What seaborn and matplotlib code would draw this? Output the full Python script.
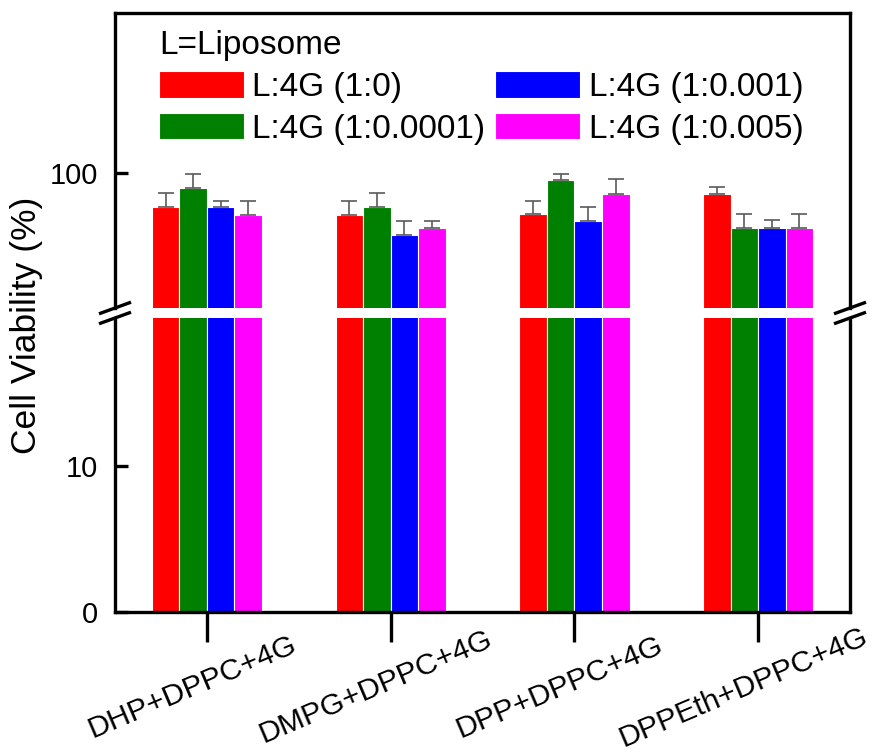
import numpy as np
import pandas as pd
import matplotlib
matplotlib.use("Agg")
import matplotlib.pyplot as plt
import matplotlib.transforms as mtransforms
import seaborn as sns

# ---------------- data ----------------
groups = ["DHP+DPPC+4G", "DMPG+DPPC+4G", "DPP+DPPC+4G", "DPPEth+DPPC+4G"]
series = ["L:4G (1:0)", "L:4G (1:0.0001)", "L:4G (1:0.001)", "L:4G (1:0.005)"]
vals_1_0 = [90.0, 87.8, 87.9, 93.9]
vals_1_00001 = [95.7, 90.0, 97.9, 84.0]
vals_1_0001 = [90.0, 82.0, 85.9, 84.0]
vals_1_0005 = [87.8, 83.9, 93.9, 84.0]
err_1_0 = [4.0, 4.1, 4.0, 2.0]
err_1_00001 = [4.1, 4.0, 1.9, 4.1]
err_1_0001 = [1.9, 4.0, 4.2, 2.1]
err_1_0005 = [4.1, 2.0, 4.2, 4.1]
colors = ["#FF0000", "#008000", "#0000FF", "#FF00FF"]
legend_title = "L=Liposome"
y_label = "Cell Viability (%)"

values = [vals_1_0, vals_1_00001, vals_1_0001, vals_1_0005]
errors = [err_1_0, err_1_00001, err_1_0001, err_1_0005]

rows = []
for s, vs in zip(series, values):
    for g, v in zip(groups, vs):
        rows.append({"group": g, "series": s, "value": v})
df = pd.DataFrame(rows)

# ---------------- style ----------------
sns.set_style("ticks")
plt.rcParams["font.family"] = ["Liberation Sans", "DejaVu Sans"]
for k in ["text.color", "axes.labelcolor", "xtick.color", "ytick.color",
          "axes.edgecolor"]:
    plt.rcParams[k] = "black"

fig = plt.figure(figsize=(8.83, 7.55), dpi=100)
W, H = 883.0, 755.0
L, R = 115 / W, 850 / W
ax_top = fig.add_axes([L, 1 - 308 / H, R - L, (308 - 13) / H])
ax_bot = fig.add_axes([L, 1 - 612 / H, R - L, (612 - 318) / H], sharex=ax_top)

for ax, show_leg in [(ax_top, True), (ax_bot, False)]:
    sns.barplot(data=df, x="group", y="value", hue="series", hue_order=series,
                order=groups, palette=colors, saturation=1, width=0.6,
                errorbar=None, edgecolor="white", linewidth=0.8,
                legend=show_leg, ax=ax)
    # error bars (upper only) from the bar containers
    for ci, cont in enumerate(ax.containers[:len(series)]):
        xs, ys, es = [], [], []
        for bar in cont:
            xc = bar.get_x() + bar.get_width() / 2
            gi = int(round(xc))
            xs.append(xc)
            ys.append(bar.get_height())
            es.append(errors[ci][gi])
        ax.errorbar(xs, ys, yerr=[np.zeros(len(es)), es], fmt="none",
                    ecolor="#5a5a5a", elinewidth=1.2, capsize=5.8,
                    capthick=1.2, zorder=1)

ax_top.set_ylim(60.5, 146.8)
ax_bot.set_ylim(0, 20.1)
ax_top.set_xlim(-0.5, 3.5)
ax_top.set_yticks([100])
ax_bot.set_yticks([0, 10])
ax_top.set_yticklabels(["100"])
ax_bot.set_yticklabels(["0", "10"])
for ax in (ax_top, ax_bot):
    ax.set_xlabel("")
    ax.set_ylabel("")
    for sp in ax.spines.values():
        sp.set_linewidth(2.4)
        sp.set_color("black")
    ax.tick_params(axis="y", direction="in", length=9.5, width=2.4,
                   labelsize=21, pad=12, right=False, color="black",
                   labelcolor="black")

ax_top.spines["bottom"].set_visible(False)
ax_bot.spines["top"].set_visible(False)
ax_top.tick_params(axis="x", bottom=False, labelbottom=False)
ax_bot.tick_params(axis="x", direction="out", length=21.6, width=2.4,
                   labelsize=21.8, pad=32.4, color="black", labelcolor="black")
ax_bot.set_xticks(range(len(groups)))
ax_bot.set_xticklabels(groups, rotation=23, ha="center", va="center",
                       rotation_mode="anchor")
offset = mtransforms.ScaledTranslation(-14.5 / 100, 0, fig.dpi_scale_trans)
for lab in ax_bot.get_xticklabels():
    lab.set_transform(lab.get_transform() + offset)

# break marks
dx, dy = 16 / (R - L) / W, 5.8 / 295
for ax, yc in [(ax_top, 0.0), (ax_bot, 1.0)]:
    for xc in (0.0, 1.0):
        ax.plot([xc - dx, xc + dx], [yc - dy, yc + dy], transform=ax.transAxes,
                color="black", lw=2.4, clip_on=False, solid_capstyle="butt")

# legend
old = ax_top.get_legend()
handles = old.legend_handles
labels = [t.get_text() for t in old.texts]
old.remove()
leg = ax_top.legend(handles, labels, title=legend_title, ncol=2, frameon=False,
                    fontsize=24, title_fontsize=24, loc="upper left",
                    bbox_to_anchor=(159 / W, 1 - 30 / H),
                    bbox_transform=fig.transFigure, borderpad=0,
                    borderaxespad=0, handlelength=2.55, handleheight=0.85,
                    handletextpad=0.25, columnspacing=0.3, labelspacing=0.3,
                    alignment="left")
for h in leg.legend_handles:
    h.set_edgecolor("white")

fig.text(27 / W, 1 - 325 / H, y_label, rotation=90, ha="center", va="center",
         fontsize=25.5)

fig.savefig("out.png", dpi=100)
